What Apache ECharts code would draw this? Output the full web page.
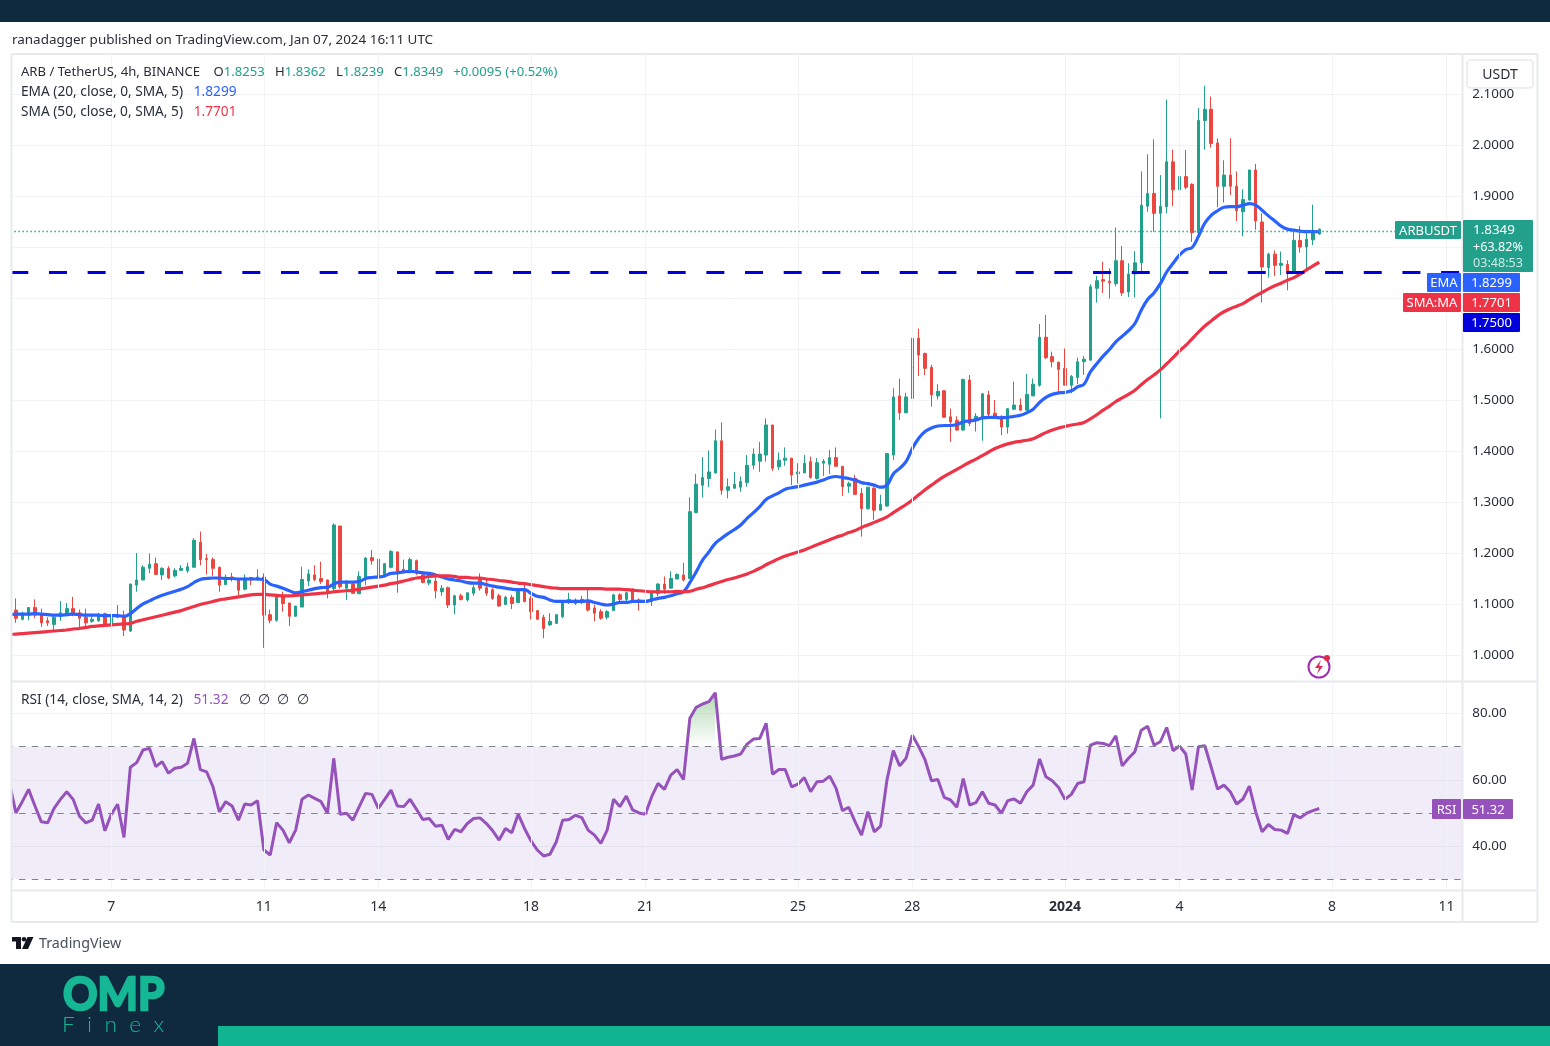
<!DOCTYPE html>
<html>
<head>
<meta charset="utf-8">
<title>ARB / TetherUS</title>
<script src="https://cdn.jsdelivr.net/npm/echarts@6/dist/echarts.min.js"></script>
<style>
html,body{margin:0;padding:0;background:#fff}
#main{width:1550px;height:1046px}
</style>
</head>
<body>
<div id="main"></div>
<script>
// 4h candles. The first one sits just left of the pane edge.
var opens = [1.075,
1.088,1.070,1.078,1.093,1.081,1.067,1.060,1.075,1.080,1.091,
1.083,1.074,1.066,1.067,1.081,1.058,1.074,1.078,1.047,1.137,
1.147,1.170,1.179,1.157,1.170,1.155,1.166,1.165,1.172,1.221,
1.189,1.187,1.172,1.138,1.153,1.148,1.129,1.152,1.147,1.153,
1.079,1.068,1.117,1.102,1.076,1.094,1.145,1.157,1.150,1.147,
1.130,1.253,1.131,1.139,1.120,1.152,1.191,1.188,1.154,1.172,
1.202,1.168,1.164,1.185,1.157,1.141,1.145,1.124,1.132,1.098,
1.116,1.108,1.121,1.150,1.132,1.128,1.116,1.099,1.113,1.103,
1.129,1.111,1.087,1.074,1.059,1.062,1.075,1.103,1.101,1.109,
1.105,1.092,1.085,1.074,1.087,1.118,1.109,1.128,1.108,1.106,
1.105,1.120,1.139,1.131,1.149,1.157,1.150,1.279,1.333,1.346,
1.357,1.420,1.323,1.327,1.329,1.338,1.372,1.380,1.392,1.451,
1.369,1.382,1.386,1.355,1.357,1.379,1.346,1.376,1.374,1.387,
1.370,1.331,1.346,1.317,1.287,1.327,1.284,1.292,1.392,1.508,
1.475,1.503,1.621,1.591,1.564,1.508,1.518,1.467,1.460,1.441,
1.539,1.461,1.467,1.510,1.474,1.468,1.447,1.482,1.490,1.480,
1.508,1.529,1.623,1.585,1.574,1.562,1.529,1.544,1.575,1.578,
1.719,1.736,1.733,1.728,1.773,1.712,1.747,1.769,1.880,1.905,
1.866,1.879,1.967,1.912,1.938,1.923,1.828,2.048,2.070,2.004,
1.919,1.941,1.919,1.869,1.892,1.951,1.849,1.760,1.786,1.764,
1.766,1.748,1.813,1.800,1.814,1.8253];
var closes = [1.088,
1.072,1.079,1.093,1.078,1.063,1.063,1.074,1.083,1.091,1.080,
1.072,1.063,1.070,1.078,1.060,1.074,1.078,1.049,1.139,1.147,
1.172,1.178,1.158,1.170,1.151,1.166,1.170,1.173,1.225,1.187,
1.187,1.170,1.137,1.153,1.150,1.127,1.151,1.147,1.153,1.078,
1.068,1.116,1.101,1.076,1.096,1.148,1.159,1.148,1.144,1.121,
1.255,1.134,1.144,1.121,1.154,1.190,1.185,1.152,1.179,1.203,
1.164,1.165,1.187,1.160,1.142,1.147,1.126,1.131,1.098,1.116,
1.109,1.122,1.132,1.131,1.121,1.111,1.096,1.113,1.101,1.130,
1.105,1.085,1.070,1.052,1.066,1.079,1.105,1.109,1.108,1.105,
1.088,1.082,1.072,1.085,1.118,1.109,1.122,1.108,1.105,1.103,
1.122,1.139,1.129,1.150,1.158,1.147,1.281,1.335,1.348,1.359,
1.420,1.323,1.330,1.335,1.340,1.372,1.394,1.394,1.451,1.366,
1.382,1.386,1.353,1.359,1.376,1.348,1.377,1.380,1.387,1.370,
1.330,1.336,1.315,1.287,1.329,1.284,1.295,1.395,1.506,1.475,
1.506,1.621,1.588,1.562,1.510,1.517,1.466,1.457,1.441,1.540,
1.454,1.468,1.512,1.472,1.467,1.447,1.483,1.490,1.480,1.511,
1.531,1.623,1.583,1.575,1.560,1.529,1.546,1.575,1.580,1.722,
1.734,1.733,1.730,1.773,1.710,1.747,1.769,1.882,1.905,1.866,
1.880,1.967,1.912,1.938,1.917,1.828,2.048,2.070,2.003,1.919,
1.941,1.919,1.871,1.893,1.951,1.851,1.761,1.786,1.764,1.768,
1.748,1.813,1.800,1.815,1.827,1.8349];
var highs = [1.092,
1.111,1.085,1.093,1.109,1.091,1.074,1.078,1.106,1.102,1.114,
1.089,1.091,1.081,1.083,1.083,1.074,1.098,1.087,1.140,1.200,
1.176,1.199,1.191,1.172,1.174,1.170,1.176,1.181,1.229,1.242,
1.198,1.191,1.173,1.158,1.161,1.150,1.158,1.153,1.168,1.160,
1.089,1.117,1.124,1.102,1.096,1.173,1.168,1.176,1.183,1.148,
1.258,1.253,1.147,1.144,1.164,1.192,1.206,1.190,1.180,1.205,
1.203,1.187,1.191,1.187,1.164,1.154,1.154,1.137,1.134,1.118,
1.120,1.122,1.137,1.160,1.147,1.131,1.120,1.116,1.118,1.131,
1.137,1.116,1.087,1.079,1.082,1.079,1.107,1.122,1.111,1.116,
1.131,1.098,1.090,1.088,1.120,1.121,1.124,1.131,1.111,1.106,
1.124,1.141,1.154,1.164,1.160,1.181,1.309,1.355,1.388,1.401,
1.442,1.456,1.346,1.359,1.350,1.392,1.405,1.418,1.464,1.451,
1.397,1.407,1.386,1.376,1.392,1.389,1.386,1.384,1.402,1.407,
1.370,1.340,1.353,1.327,1.329,1.329,1.314,1.395,1.523,1.542,
1.514,1.670,1.640,1.593,1.569,1.531,1.519,1.483,1.468,1.542,
1.549,1.474,1.513,1.518,1.500,1.470,1.483,1.536,1.503,1.551,
1.542,1.649,1.667,1.595,1.575,1.601,1.549,1.583,1.586,1.727,
1.743,1.771,1.758,1.838,1.802,1.768,1.792,1.948,1.982,2.011,
1.941,2.089,1.991,1.963,1.990,1.925,2.072,2.116,2.095,2.013,
1.970,2.013,1.948,1.913,1.951,1.963,1.866,1.789,1.793,1.791,
1.774,1.831,1.841,1.834,1.883,1.8362];
var lows = [1.070,
1.063,1.068,1.068,1.072,1.055,1.057,1.049,1.067,1.076,1.076,
1.055,1.055,1.063,1.065,1.057,1.055,1.072,1.037,1.045,1.124,
1.147,1.160,1.158,1.147,1.149,1.152,1.165,1.161,1.172,1.176,
1.158,1.155,1.124,1.137,1.144,1.117,1.127,1.137,1.147,1.014,
1.062,1.065,1.085,1.057,1.075,1.094,1.135,1.145,1.139,1.111,
1.124,1.130,1.108,1.120,1.120,1.137,1.177,1.152,1.152,1.170,
1.122,1.160,1.160,1.157,1.141,1.137,1.111,1.116,1.092,1.080,
1.107,1.105,1.116,1.126,1.116,1.108,1.095,1.098,1.090,1.103,
1.103,1.070,1.069,1.033,1.057,1.061,1.072,1.100,1.098,1.100,
1.085,1.066,1.069,1.070,1.087,1.105,1.105,1.105,1.087,1.096,
1.096,1.115,1.120,1.131,1.149,1.144,1.150,1.279,1.309,1.329,
1.356,1.314,1.307,1.327,1.320,1.330,1.364,1.359,1.379,1.361,
1.363,1.371,1.333,1.336,1.357,1.346,1.344,1.351,1.355,1.369,
1.312,1.318,1.314,1.232,1.285,1.265,1.284,1.291,1.382,1.461,
1.474,1.503,1.547,1.549,1.487,1.501,1.466,1.418,1.440,1.440,
1.449,1.438,1.420,1.467,1.464,1.431,1.434,1.480,1.479,1.479,
1.508,1.526,1.580,1.564,1.516,1.529,1.513,1.531,1.549,1.578,
1.691,1.710,1.699,1.723,1.704,1.702,1.701,1.751,1.869,1.830,
1.464,1.866,1.880,1.846,1.913,1.810,1.823,1.991,1.995,1.878,
1.887,1.902,1.851,1.821,1.891,1.834,1.691,1.740,1.743,1.745,
1.715,1.748,1.789,1.756,1.804,1.8239];
var ema20 = [1.079,
1.080,1.080,1.080,1.081,1.080,1.079,1.078,1.078,1.079,1.080,
1.079,1.078,1.078,1.078,1.077,1.077,1.077,1.076,1.081,1.091,
1.100,1.106,1.112,1.117,1.121,1.125,1.129,1.134,1.142,1.148,
1.150,1.151,1.151,1.150,1.150,1.149,1.149,1.149,1.149,1.148,
1.139,1.135,1.131,1.126,1.122,1.124,1.127,1.130,1.132,1.133,
1.139,1.143,1.143,1.143,1.144,1.150,1.152,1.153,1.155,1.160,
1.161,1.163,1.164,1.163,1.161,1.160,1.157,1.153,1.149,1.147,
1.145,1.142,1.141,1.141,1.138,1.135,1.133,1.131,1.129,1.128,
1.128,1.121,1.115,1.113,1.108,1.105,1.105,1.105,1.105,1.105,
1.106,1.103,1.100,1.098,1.100,1.103,1.103,1.105,1.105,1.105,
1.108,1.111,1.113,1.116,1.120,1.124,1.142,1.163,1.186,1.202,
1.219,1.229,1.238,1.246,1.255,1.268,1.279,1.291,1.305,1.312,
1.318,1.325,1.328,1.330,1.333,1.336,1.339,1.343,1.348,1.350,
1.348,1.346,1.343,1.338,1.336,1.333,1.329,1.333,1.355,1.366,
1.379,1.405,1.425,1.438,1.445,1.449,1.450,1.450,1.452,1.457,
1.459,1.461,1.465,1.466,1.466,1.465,1.466,1.468,1.470,1.475,
1.482,1.495,1.505,1.511,1.514,1.515,1.518,1.526,1.531,1.555,
1.571,1.586,1.599,1.614,1.625,1.636,1.650,1.676,1.697,1.710,
1.728,1.751,1.768,1.784,1.795,1.799,1.821,1.847,1.862,1.871,
1.878,1.879,1.879,1.882,1.885,1.882,1.872,1.861,1.851,1.841,
1.835,1.833,1.831,1.830,1.830,1.8299];
var sma50 = [1.040,
1.041,1.042,1.043,1.044,1.045,1.046,1.047,1.048,1.049,1.051,
1.052,1.054,1.056,1.057,1.058,1.059,1.060,1.061,1.062,1.066,
1.069,1.072,1.075,1.078,1.081,1.084,1.087,1.091,1.095,1.099,
1.102,1.105,1.108,1.110,1.112,1.114,1.116,1.118,1.119,1.119,
1.118,1.117,1.116,1.116,1.117,1.118,1.119,1.120,1.121,1.122,
1.124,1.125,1.126,1.127,1.129,1.131,1.133,1.135,1.137,1.140,
1.142,1.145,1.148,1.151,1.152,1.154,1.155,1.155,1.155,1.154,
1.152,1.152,1.151,1.151,1.149,1.148,1.146,1.145,1.143,1.141,
1.140,1.138,1.136,1.134,1.132,1.131,1.130,1.130,1.130,1.130,
1.130,1.130,1.130,1.129,1.129,1.129,1.128,1.127,1.126,1.125,
1.124,1.124,1.124,1.124,1.125,1.124,1.125,1.129,1.132,1.136,
1.140,1.144,1.148,1.151,1.155,1.159,1.164,1.170,1.177,1.183,
1.189,1.194,1.198,1.202,1.206,1.211,1.216,1.221,1.226,1.231,
1.235,1.240,1.244,1.250,1.255,1.260,1.265,1.271,1.279,1.287,
1.295,1.304,1.314,1.324,1.333,1.342,1.350,1.357,1.364,1.371,
1.378,1.384,1.391,1.398,1.405,1.410,1.414,1.417,1.419,1.421,
1.424,1.430,1.436,1.441,1.445,1.448,1.451,1.453,1.456,1.463,
1.471,1.480,1.488,1.497,1.504,1.511,1.519,1.530,1.540,1.549,
1.559,1.571,1.583,1.596,1.607,1.620,1.633,1.645,1.655,1.665,
1.673,1.679,1.684,1.689,1.697,1.704,1.711,1.718,1.724,1.729,
1.735,1.740,1.747,1.755,1.763,1.7701];
var rsi14 = [58.9,
50.0,53.4,57.1,52.1,47.3,47.0,51.4,54.1,56.4,54.1,
49.0,47.0,47.8,52.7,44.6,49.6,52.6,42.6,63.8,65.2,
69.0,69.5,64.0,65.5,62.0,63.5,63.8,65.0,72.5,63.1,
62.4,57.9,50.3,53.4,52.1,47.8,52.7,52.4,53.7,38.8,
37.3,47.0,44.8,41.0,44.8,54.1,55.4,54.4,53.4,49.9,
66.5,49.6,49.9,47.8,51.9,55.9,55.6,51.4,54.1,56.9,
52.1,51.9,54.1,51.1,48.0,48.3,46.0,46.3,42.0,45.0,
44.3,46.8,48.3,48.5,46.8,44.6,41.8,45.3,44.0,49.6,
45.3,41.6,38.8,37.0,37.5,41.3,47.8,48.0,49.3,48.6,
44.8,43.3,40.8,44.8,54.1,51.9,55.1,50.9,50.0,49.6,
54.9,58.9,57.1,61.4,63.1,60.1,78.6,81.9,82.9,83.6,
86.3,66.2,66.8,67.2,67.8,70.8,72.3,72.5,77.1,61.7,
63.1,63.1,57.9,58.7,60.7,56.4,59.4,59.6,61.1,57.4,
50.7,51.7,47.3,43.3,50.4,44.3,46.0,59.9,68.8,64.2,
66.5,73.5,70.0,66.0,59.7,60.1,54.7,53.9,51.7,60.4,
52.4,53.1,56.4,52.9,52.4,49.9,53.7,54.2,52.9,56.4,
58.4,66.3,60.9,59.7,57.7,54.1,55.6,58.9,59.4,70.5,
71.2,71.0,70.3,73.3,64.2,66.5,68.5,75.0,76.2,70.5,
71.5,75.8,68.8,70.2,67.8,56.9,70.0,70.3,63.8,57.2,
58.4,56.4,52.7,54.2,58.1,50.3,44.3,46.5,45.0,44.8,
43.8,49.5,48.5,49.9,50.7,51.32];

var slotCount = 229;                 // candles plus the empty room on the right
var timeSlots = [16,40,58,82,100,124,142,166,184,208,226];
var timeLabels = ['7','11','14','18','21','25','28','2024','4','8','11'];
var priceTicks = [1.0,1.1,1.2,1.3,1.4,1.5,1.6,1.7,1.8,1.9,2.0,2.1];
var rsiTicks = [40,60,80];
var rsiBands = [30,50,70];
var lastPrice = 1.8349, keyLevel = 1.75;
var hotFrom = 107, hotTo = 111;      // overbought stretch that gets the green fill

var UP = '#22a08c', DOWN = '#e9473f', BLUE = '#2962ff', RED = '#ef3347', PURPLE = '#9652bb', KEY = '#0000dc';
var GRIDLINE = '#f2f3f6', BORDER = '#e8eaee', INK = '#2a2e39';
var FONT = '"Noto Sans", sans-serif';

var slots = [];
for (var s = 0; s < slotCount; s++) slots.push(String(s));
var candles = opens.map(function (o, i) { return [o, closes[i], lows[i], highs[i]]; });
var hotBase = rsi14.map(function (v, i) { return i >= hotFrom && i <= hotTo ? 70 : null; });
var hotFill = rsi14.map(function (v, i) { return i >= hotFrom && i <= hotTo ? v - 70 : null; });
var vLines = timeSlots.map(function (t) { return {xAxis: t}; });

function text(x, y, str, size, color, extra) {
    var st = {x: x, y: y, text: str, fill: color, font: (size || 14) + 'px ' + FONT, textVerticalAlign: 'middle'};
    for (var k in (extra || {})) st[k] = extra[k];
    return {type: 'text', z: 110, silent: true, style: st};
}
function box(x, y, w, h, color, r) {
    return {type: 'rect', z: 105, silent: true, shape: {x: x, y: y, width: w, height: h, r: r || 0}, style: {fill: color}};
}
function hline(x1, x2, y, color, w) {
    return {type: 'line', z: 103, silent: true, shape: {x1: x1, y1: y, x2: x2, y2: y}, style: {stroke: color, lineWidth: w || 2}};
}
function vline(x, y1, y2, color, w) {
    return {type: 'line', z: 103, silent: true, shape: {x1: x, y1: y1, x2: x, y2: y2}, style: {stroke: color, lineWidth: w || 2}};
}
function tag(x, y, w, h, color, str) {
    return [box(x, y, w, h, color, 1),
        text(x + w / 2, y + h / 2 + 1, str, 13, '#fff', {textAlign: 'center'})];
}

var rich = function (col, size) {
    return {
        k: {fill: INK, font: size + 'px ' + FONT},
        v: {fill: col, font: size + 'px ' + FONT}
    };
};

// logo text is squeezed or stretched to the width it has in the picture
function logoText(x, y, str, font, sx, weight) {
    return {type: 'text', z: 110, silent: true, x: x, y: y, scaleX: sx, originX: 0, originY: 0,
        style: {x: 0, y: 0, text: str, fill: '#16b795', font: font, textVerticalAlign: 'middle',
            stroke: weight ? '#16b795' : null, lineWidth: weight || 0}};
}

var chrome = [
    box(0, 0, 1550, 22, '#0f2a3e'),
    box(0, 964, 1550, 82, '#0f2a3e'),
    box(218, 1026, 1332, 20, '#10b490'),

    text(12, 40.5, 'ranadagger published on TradingView.com, Jan 07, 2024 16:11 UTC', 13.45, '#2a2e39'),

    text(21, 72, '{k|ARB / TetherUS, 4h, BINANCE    O}{v|1.8253}{k|   H}{v|1.8362}{k|   L}{v|1.8239}{k|   C}{v|1.8349}{v|   +0.0095 (+0.52%)}', 13.1, INK, {rich: rich('#22a08c', 13.1)}),
    text(21, 92, '{k|EMA (20, close, 0, SMA, 5)   }{v|1.8299}', 13.7, INK, {rich: rich(BLUE, 13.7)}),
    text(21, 112, '{k|SMA (50, close, 0, SMA, 5)   }{v|1.7701}', 13.7, INK, {rich: rich(RED, 13.7)}),
    text(21, 700.5, '{k|RSI (14, close, SMA, 14, 2)   }{v|51.32}{k|   ∅  ∅  ∅  ∅}', 13.7, INK, {rich: rich(PURPLE, 13.7)}),

    // hides the one candle that falls left of the pane edge
    {type: 'rect', z: 102, silent: true, shape: {x: 0, y: 54, width: 11, height: 868}, style: {fill: '#fff'}},

    // pane frame
    hline(11, 1538, 54, BORDER), hline(11, 1538, 922, BORDER),
    hline(11, 1538, 681.5, BORDER), hline(11, 1538, 890.5, BORDER),
    vline(11.5, 54, 922, BORDER), vline(1537.5, 54, 922, BORDER), vline(1462.5, 54, 922, BORDER),

    // currency button sits over the top tick label
    {type: 'rect', z: 104, silent: true, shape: {x: 1467, y: 60, width: 66, height: 28, r: 4},
        style: {fill: '#fff', stroke: '#eceef1', lineWidth: 2}},
    text(1500, 75, 'USDT', 14, INK, {textAlign: 'center'}),

    box(1463, 220, 70, 52, '#22a08c', 1),
    text(1473, 230.5, '1.8349', 13.4, '#fff'),
    text(1473, 247.5, '+63.82%', 12.6, '#fff'),
    text(1473, 263.5, '03:48:53', 12.6, '#cdeae5'),

    // replay / lightning badge
    {type: 'circle', z: 104, silent: true, shape: {cx: 1319, cy: 667, r: 10.5}, style: {fill: '#fff', stroke: '#a02fb0', lineWidth: 2}},
    {type: 'polygon', z: 105, silent: true, shape: {points: [[1321, 660], [1315, 668], [1319, 668], [1317, 674], [1323, 666], [1319, 666]]}, style: {fill: '#e0285a'}},
    {type: 'circle', z: 106, silent: true, shape: {cx: 1327, cy: 658, r: 3}, style: {fill: '#e0284a'}},

    // TradingView mark
    {type: 'polygon', z: 105, silent: true, shape: {points: [[12, 937], [21, 937], [21, 949], [16, 949], [16, 941.5], [12, 941.5]]}, style: {fill: '#131722'}},
    {type: 'circle', z: 105, silent: true, shape: {cx: 24, cy: 939.3, r: 2.3}, style: {fill: '#131722'}},
    {type: 'polygon', z: 105, silent: true, shape: {points: [[27.5, 937], [33.5, 937], [28, 949], [22, 949]]}, style: {fill: '#131722'}},
    text(39, 944, 'TradingView', 14.3, '#4a4e59'),

    // footer logo
    logoText(63, 995, 'OMP', 'bold 46px Lato, sans-serif', 0.93, 2.5),
    logoText(62, 1025, 'F  i  n  e  x', '300 21px Lato, sans-serif', 1.08, 0)
];
chrome = chrome
    .concat(tag(1395, 221, 66, 18, '#22a08c', 'ARBUSDT'))
    .concat(tag(1427, 273, 34, 19, BLUE, 'EMA'))
    .concat(tag(1463, 273, 57, 19, BLUE, '1.8299'))
    .concat(tag(1403, 293, 58, 19, RED, 'SMA:MA'))
    .concat(tag(1463, 293, 57, 19, RED, '1.7701'))
    .concat(tag(1463, 313, 57, 19, KEY, '1.7500'))
    .concat(tag(1432, 799, 29, 20, PURPLE, 'RSI'))
    .concat(tag(1463, 799, 50, 20, PURPLE, '51.32'));

var option = {
    animation: false,
    backgroundColor: '#ffffff',
    textStyle: {fontFamily: FONT},
    graphic: {elements: chrome},
    grid: [
        {left: 6.36, width: 1455.98, top: 54, height: 627},
        {left: 6.36, width: 1455.98, top: 682, height: 208}
    ],
    xAxis: [
        {type: 'category', gridIndex: 0, data: slots, show: false},
        {type: 'category', gridIndex: 1, data: slots,
            axisLine: {show: false}, axisTick: {show: false}, splitLine: {show: false},
            axisLabel: {
                margin: 10, color: INK, fontSize: 14, fontFamily: FONT,
                interval: function (i) { return timeSlots.indexOf(i) >= 0; },
                formatter: function (v) {
                    var l = timeLabels[timeSlots.indexOf(+v)];
                    return l === '2024' ? '{b|2024}' : l;
                },
                rich: {b: {fontWeight: 'bold', fontSize: 14, color: INK, fontFamily: FONT}}
            }}
    ],
    yAxis: [
        {type: 'value', gridIndex: 0, position: 'right', min: 0.949, max: 2.1784,
            axisLine: {show: false},
            axisTick: {show: false, customValues: priceTicks},
            splitLine: {show: true, lineStyle: {color: GRIDLINE, width: 1}},
            axisLabel: {customValues: priceTicks, margin: 10, color: INK, fontSize: 13.4, fontFamily: FONT,
                padding: [2, 0, 0, 0],
                formatter: function (v) { return v.toFixed(4); }}},
        {type: 'value', gridIndex: 1, position: 'right', min: 26.71, max: 89.55,
            axisLine: {show: false},
            axisTick: {show: false, customValues: rsiTicks},
            splitLine: {show: true, lineStyle: {color: GRIDLINE, width: 1}},
            axisLabel: {customValues: rsiTicks, margin: 10, color: INK, fontSize: 13.4, fontFamily: FONT,
                padding: [2, 0, 0, 0],
                formatter: function (v) { return v.toFixed(2); }}}
    ],
    series: [
        {type: 'line', xAxisIndex: 0, yAxisIndex: 0, data: [], z: 1, silent: true,
            markLine: {silent: true, symbol: 'none', label: {show: false}, animation: false,
                lineStyle: {color: GRIDLINE, width: 1, type: 'solid'}, data: vLines}},
        {type: 'candlestick', name: 'ARBUSDT', xAxisIndex: 0, yAxisIndex: 0, data: candles, barWidth: 3, z: 3, silent: true,
            itemStyle: {color: UP, color0: DOWN, borderColor: UP, borderColor0: DOWN, borderWidth: 1}},
        {type: 'line', name: 'EMA', xAxisIndex: 0, yAxisIndex: 0, data: ema20, z: 4, symbol: 'none', silent: true, smooth: 0.4,
            lineStyle: {color: BLUE, width: 3.2}},
        {type: 'line', name: 'SMA', xAxisIndex: 0, yAxisIndex: 0, data: sma50, z: 4, symbol: 'none', silent: true, smooth: 0.4,
            lineStyle: {color: RED, width: 3.2}},
        {type: 'line', xAxisIndex: 0, yAxisIndex: 0, data: [], z: 5, silent: true,
            markLine: {silent: true, symbol: 'none', label: {show: false}, animation: false, data: [
                {yAxis: keyLevel, lineStyle: {color: KEY, width: 3, type: [18, 20.67], dashOffset: 34.73}},
                {yAxis: lastPrice, lineStyle: {color: '#1fa98f', width: 1.3, type: [1.5, 2.5]}}
            ]}},

        {type: 'line', xAxisIndex: 1, yAxisIndex: 1, data: [], z: 1, silent: true,
            markLine: {silent: true, symbol: 'none', label: {show: false}, animation: false,
                lineStyle: {color: GRIDLINE, width: 1, type: 'solid'}, data: vLines},
            markArea: {silent: true, itemStyle: {color: 'rgba(126,87,194,0.11)'}, data: [[{yAxis: rsiBands[0]}, {yAxis: rsiBands[2]}]]}},
        {type: 'line', xAxisIndex: 1, yAxisIndex: 1, data: [], z: 2, silent: true,
            markLine: {silent: true, symbol: 'none', label: {show: false}, animation: false,
                lineStyle: {color: '#80838c', width: 1.2, type: [6.5, 6.2]},
                data: rsiBands.map(function (b) { return {yAxis: b}; })}},
        {type: 'line', xAxisIndex: 1, yAxisIndex: 1, data: hotBase, stack: 'hot', z: 3, symbol: 'none', silent: true,
            lineStyle: {opacity: 0}},
        {type: 'line', xAxisIndex: 1, yAxisIndex: 1, data: hotFill, stack: 'hot', z: 3, symbol: 'none', silent: true,
            lineStyle: {opacity: 0},
            areaStyle: {color: {type: 'linear', x: 0, y: 0, x2: 0, y2: 1, colorStops: [
                {offset: 0, color: 'rgba(76,160,80,0.6)'}, {offset: 1, color: 'rgba(76,175,80,0)'}]}}},
        {type: 'line', name: 'RSI', xAxisIndex: 1, yAxisIndex: 1, data: rsi14, z: 4, symbol: 'none', silent: true,
            lineStyle: {color: PURPLE, width: 3}}
    ]
};

var myChart = echarts.init(document.getElementById('main'), null, {renderer: 'canvas'});
myChart.setOption(option);
</script>
</body>
</html>
